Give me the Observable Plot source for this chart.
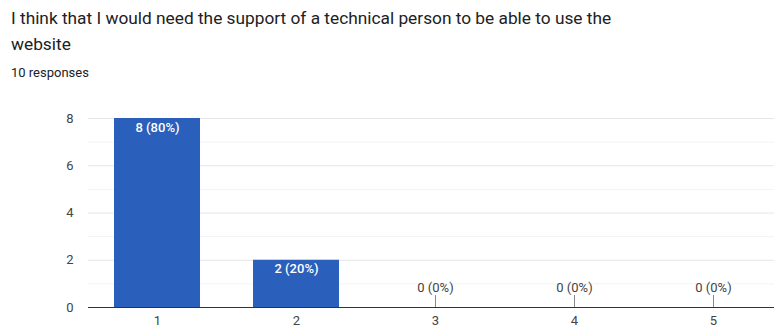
<!DOCTYPE html>
<html>
<head>
<meta charset="utf-8">
<script src="https://cdn.jsdelivr.net/npm/d3@7"></script>
<script src="https://cdn.jsdelivr.net/npm/@observablehq/plot@0.6"></script>
<style>
  body { margin: 0; background: #fff; font-family: Roboto, "Noto Sans", sans-serif; }
  #wrap { position: relative; width: 774px; height: 329px; overflow: hidden; }
  #title { position: absolute; left: 11px; top: 5px; width: 700px; font-size: 17.3px; line-height: 26px; color: #202124; }
  #sub { position: absolute; left: 11px; top: 65px; font-size: 13px; color: #202124; }
  #chart { position: absolute; left: 0; top: 100px; }
</style>
</head>
<body>
<div id="wrap">
  <div id="title">I think that I would need the support of a technical person to be able to use the<br>website</div>
  <div id="sub">10 responses</div>
  <div id="chart"></div>
</div>
<script>
const categories = ["1", "2", "3", "4", "5"];
const counts = [8, 2, 0, 0, 0];
const labels = ["8 (80%)", "2 (20%)", "0 (0%)", "0 (0%)", "0 (0%)"];
const yTicks = [0, 2, 4, 6, 8];
const gridMinor = [1, 3, 5, 7];

const data = categories.map((c, i) => ({cat: c, value: counts[i], label: labels[i]}));
const pos = data.filter(d => d.value > 0);
const zero = data.filter(d => d.value === 0);

const chart = Plot.plot({
  width: 774,
  height: 229,
  marginLeft: 88,
  marginRight: 0,
  marginTop: 18,
  marginBottom: 22,
  style: {fontFamily: "Roboto, sans-serif", fontSize: "13px", color: "#444", background: "#fff"},
  x: {domain: categories, range: [88, 783], paddingInner: 0.38, paddingOuter: 0.19, label: null},
  y: {domain: [0, 8], label: null},
  marks: [
    Plot.ruleY(gridMinor, {stroke: "#f3f3f3"}),
    Plot.ruleY(yTicks, {stroke: "#e6e6e6"}),
    Plot.axisY({ticks: yTicks, tickSize: 0, tickPadding: 15, fontSize: 13, color: "#444", label: null}),
    Plot.axisX({tickSize: 0, tickPadding: 8, fontSize: 13, color: "#444", label: null}),
    Plot.barY(pos, {x: "cat", y: "value", fill: "#2a5fbb"}),
    Plot.ruleX(zero, {x: "cat", y1: "value", y2: "value", insetTop: -12, stroke: "#888"}),
    Plot.ruleY([0], {stroke: "#333", strokeWidth: 1}),
    Plot.text(pos, {x: "cat", y: "value", text: "label", dy: 9, fill: "white", fontSize: 13, fontWeight: 500}),
    Plot.text(zero, {x: "cat", y: "value", text: "label", dy: -20, fill: "#444", fontSize: 13})
  ]
});
document.getElementById("chart").appendChild(chart);
</script>
</body>
</html>
